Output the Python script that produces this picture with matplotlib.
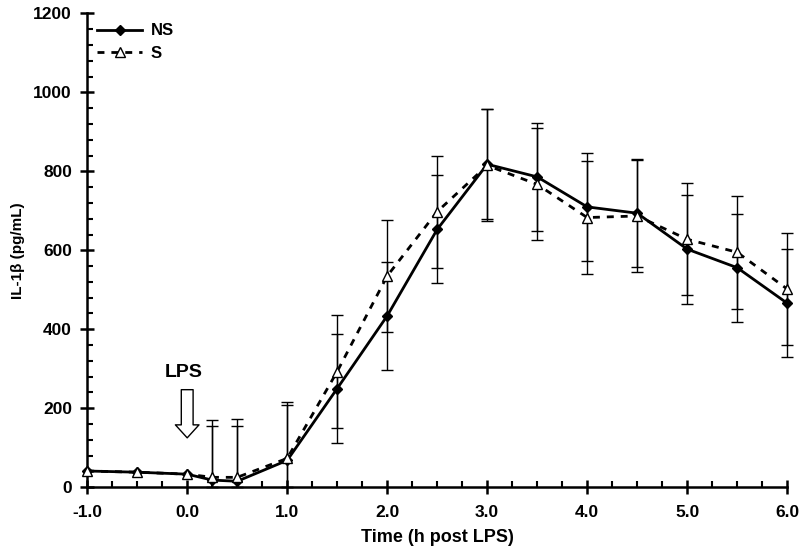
import matplotlib.pyplot as plt
from matplotlib.ticker import MultipleLocator

plt.rcParams['font.family'] = ['Liberation Sans', 'DejaVu Sans']
plt.rcParams['font.weight'] = 'bold'

time_h = [-1.0, -0.5, 0.0, 0.25, 0.5, 1.0, 1.5, 2.0, 2.5, 3.0, 3.5, 4.0, 4.5, 5.0, 5.5, 6.0]
ns_vals = [41, 38, 33, 18, 15, 68, 250, 434, 653, 818, 786, 710, 694, 603, 556, 466]
ns_err = [0, 0, 0, 137, 140, 139, 137, 137, 137, 139, 137, 137, 137, 138, 137, 137]
s_vals = [41, 38, 33, 25, 25, 73, 293, 535, 698, 815, 767, 683, 687, 628, 595, 502]
s_err = [0, 0, 0, 144, 148, 142, 143, 143, 142, 142, 142, 143, 142, 142, 143, 143]

fig = plt.figure(figsize=(8, 5.6), dpi=100)
ax = fig.add_axes([0.109, 0.130, 0.875, 0.846])

# error bars only where there is a spread; lower whisker stops at the axis
for vals, errs in [(ns_vals, ns_err), (s_vals, s_err)]:
    xs = [t for t, e in zip(time_h, errs) if e > 0]
    ys = [v for v, e in zip(vals, errs) if e > 0]
    lo = [min(e, v) for v, e in zip(vals, errs) if e > 0]
    hi = [e for e in errs if e > 0]
    ax.errorbar(xs, ys, yerr=[lo, hi], fmt='none', ecolor='black',
                elinewidth=1.0, capsize=4, capthick=1.0, zorder=2)

ax.plot(time_h, s_vals, linestyle=(0, (2.5, 2.5)), color='black', linewidth=2,
        marker='^', markersize=7.5, markerfacecolor='white', markeredgecolor='black',
        markeredgewidth=1.0, label='S', zorder=4)
ax.plot(time_h, ns_vals, linestyle='-', color='black', linewidth=2,
        marker='D', markersize=5.5, markerfacecolor='black', markeredgecolor='black',
        label='NS', zorder=3)

# LPS arrow
ax.annotate('', xy=(0.0, 125), xytext=(0.0, 247),
            arrowprops=dict(arrowstyle='simple,head_length=0.55,head_width=1.0,tail_width=0.5',
                            mutation_scale=17, fc='white', ec='black', lw=1.0,
                            shrinkA=0, shrinkB=0))
ax.text(-0.04, 290, 'LPS', ha='center', va='center', fontsize=14, fontweight='bold')

ax.set_xlim(-1.0, 6.0)
ax.set_ylim(0, 1200)
ax.xaxis.set_major_locator(MultipleLocator(1.0))
ax.xaxis.set_minor_locator(MultipleLocator(0.25))
ax.yaxis.set_major_locator(MultipleLocator(200))
ax.yaxis.set_minor_locator(MultipleLocator(40))
ax.set_xticks([-1, 0, 1, 2, 3, 4, 5, 6])
ax.set_xticklabels(['-1.0', '0.0', '1.0', '2.0', '3.0', '4.0', '5.0', '6.0'])

for art in ax.lines + ax.collections:
    art.set_clip_on(False)

ax.spines['top'].set_visible(False)
ax.spines['right'].set_visible(False)
ax.spines['left'].set_linewidth(1.8)
ax.spines['bottom'].set_linewidth(1.8)
ax.tick_params(which='major', direction='inout', length=10, width=1.8, labelsize=12.5)
ax.tick_params(axis='x', which='major', pad=8)
ax.tick_params(axis='y', which='major', pad=6)
ax.tick_params(which='minor', direction='in', length=4, width=1.5)
for lab in ax.get_xticklabels() + ax.get_yticklabels():
    lab.set_fontweight('bold')

ax.set_xlabel('Time (h post LPS)', fontsize=13, fontweight='bold', labelpad=6)
ax.set_ylabel('IL-1β (pg/mL)', fontsize=11, fontweight='bold', labelpad=6)

handles, labels = ax.get_legend_handles_labels()
ax.legend(handles[::-1], labels[::-1], loc='upper left', frameon=False,
          handlelength=2.7, borderaxespad=0.2, labelspacing=0.45, handletextpad=0.5,
          bbox_to_anchor=(0.0, 1.0), prop={'weight': 'bold', 'size': 12})

fig.savefig('out.png', dpi=100)
